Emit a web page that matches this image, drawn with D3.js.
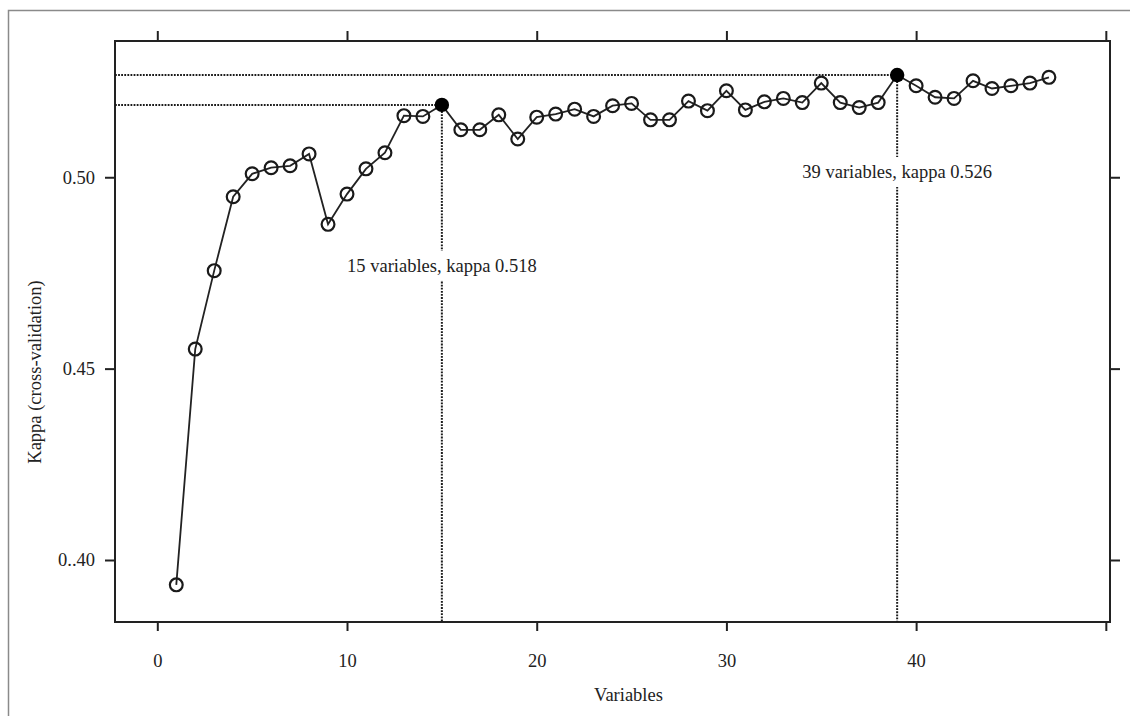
<!DOCTYPE html>
<html>
<head>
<meta charset="utf-8">
<script src="https://cdn.jsdelivr.net/npm/d3@7"></script>
<style>
  html, body { margin: 0; padding: 0; background: #fff; }
  svg { display: block; }
  text { font-family: "Liberation Serif", "DejaVu Serif", serif; fill: #222; }
</style>
</head>
<body>
<svg width="1130" height="716"></svg>
<script>
// number of variables kept, and cross-validated kappa for each
const variables = [1, 2, 3, 4, 5, 6, 7, 8, 9, 10, 11, 12, 13, 14, 15, 16, 17, 18, 19, 20,
  21, 22, 23, 24, 25, 26, 27, 28, 29, 30, 31, 32, 33, 34, 35, 36, 37, 38, 39, 40,
  41, 42, 43, 44, 45, 46, 47];
const kappa = [0.3935, 0.4551, 0.4756, 0.4949, 0.5009, 0.5025, 0.5030, 0.5061, 0.4877, 0.4956,
  0.5022, 0.5064, 0.5161, 0.5159, 0.5189, 0.5124, 0.5124, 0.5163, 0.5100, 0.5157,
  0.5165, 0.5178, 0.5159, 0.5187, 0.5193, 0.5150, 0.5150, 0.5199, 0.5174, 0.5226,
  0.5176, 0.5197, 0.5206, 0.5195, 0.5246, 0.5195, 0.5182, 0.5195, 0.5267, 0.5239,
  0.5209, 0.5206, 0.5252, 0.5232, 0.5239, 0.5246, 0.5261];

const highlighted = [15, 39];
const highlightLabels = ['15 variables, kappa 0.518', '39 variables, kappa 0.526'];

const xTicks = [0, 10, 20, 30, 40, 50];
const xTickLabels = ['0', '10', '20', '30', '40', ''];
const yTicks = [0.40, 0.45, 0.50];
const yTickLabels = ['0..40', '0.45', '0.50'];

const svg = d3.select('svg');

const panel = { left: 115, top: 41, right: 1110, bottom: 622 };

const x = d3.scaleLinear().domain([-2.23, 50.22]).range([panel.left, panel.right]);
const y = d3.scaleLinear().domain([0.3838, 0.5356]).range([panel.bottom, panel.top]);

const points = variables.map((v, i) => ({ v, k: kappa[i] }));

// outer figure frame (only top and left visible)
svg.append('path')
  .attr('d', 'M8.5,716 L8.5,10.5 L1130,10.5')
  .attr('fill', 'none')
  .attr('stroke', '#8a8a8a')
  .attr('stroke-width', 1.5);

// axes
const fmtX = (d, i) => xTickLabels[i];
const fmtY = (d, i) => yTickLabels[i];

const axBottom = svg.append('g')
  .attr('transform', `translate(0,${panel.bottom})`)
  .call(d3.axisBottom(x).tickValues(xTicks).tickFormat(fmtX).tickSizeInner(9).tickSizeOuter(0).tickPadding(23));
const axTop = svg.append('g')
  .attr('transform', `translate(0,${panel.top})`)
  .call(d3.axisTop(x).tickValues(xTicks).tickFormat('').tickSizeInner(10).tickSizeOuter(0));
const axLeft = svg.append('g')
  .attr('transform', `translate(${panel.left},0)`)
  .call(d3.axisLeft(y).tickValues(yTicks).tickFormat(fmtY).tickSizeInner(10).tickSizeOuter(0).tickPadding(10));
const axRight = svg.append('g')
  .attr('transform', `translate(${panel.right},0)`)
  .call(d3.axisRight(y).tickValues(yTicks).tickFormat('').tickSizeInner(10).tickSizeOuter(0));

[axBottom, axTop, axLeft, axRight].forEach(g => {
  g.select('.domain').remove();
  g.selectAll('line').attr('stroke', '#222').attr('stroke-width', 2);
  g.selectAll('text').attr('font-size', 18.5).attr('fill', '#222')
    .attr('font-family', '"Liberation Serif", "DejaVu Serif", serif');
});

// panel box
svg.append('rect')
  .attr('x', panel.left).attr('y', panel.top)
  .attr('width', panel.right - panel.left).attr('height', panel.bottom - panel.top)
  .attr('fill', 'none').attr('stroke', '#222').attr('stroke-width', 2);

// reference lines for the highlighted models
const best = highlighted.map((v, i) => ({ v, k: kappa[variables.indexOf(v)], label: highlightLabels[i] }));
const labelKappa = [0.4753, 0.4998]; // where the labels sit on the y scale

const refs = svg.append('g')
  .attr('stroke', '#1a1a1a').attr('stroke-width', 2).attr('stroke-dasharray', '1.8,1.3').attr('fill', 'none');
best.forEach(d => {
  refs.append('line')
    .attr('x1', panel.left).attr('x2', x(d.v))
    .attr('y1', y(d.k)).attr('y2', y(d.k));
  refs.append('line')
    .attr('x1', x(d.v)).attr('x2', x(d.v))
    .attr('y1', y(d.k)).attr('y2', panel.bottom);
});

best.forEach((d, i) => {
  const g = svg.append('g');
  const bg = g.append('rect').attr('fill', '#fff');
  const t = g.append('text')
    .attr('x', x(d.v)).attr('y', y(labelKappa[i]))
    .attr('text-anchor', 'middle')
    .attr('font-size', 18.5)
    .text(d.label);
  const b = t.node().getBBox();
  bg.attr('x', b.x - 2).attr('y', b.y - 5).attr('width', b.width + 4).attr('height', b.height + 10);
});

// data line and markers
const line = d3.line().x(d => x(d.v)).y(d => y(d.k));
svg.append('path')
  .datum(points)
  .attr('d', line)
  .attr('fill', 'none')
  .attr('stroke', '#222')
  .attr('stroke-width', 1.8);

svg.append('g').selectAll('circle')
  .data(points.filter(d => !highlighted.includes(d.v)))
  .join('circle')
  .attr('cx', d => x(d.v)).attr('cy', d => y(d.k))
  .attr('r', 6.4)
  .attr('fill', 'none')
  .attr('stroke', '#1a1a1a')
  .attr('stroke-width', 2.2);

svg.append('g').selectAll('circle')
  .data(best)
  .join('circle')
  .attr('cx', d => x(d.v)).attr('cy', d => y(d.k))
  .attr('r', 7.2)
  .attr('fill', '#000');

// axis titles
svg.append('text')
  .attr('x', (panel.left + panel.right) / 2 + 16).attr('y', 701)
  .attr('text-anchor', 'middle').attr('font-size', 18.5)
  .text('Variables');
svg.append('text')
  .attr('transform', 'translate(41,372) rotate(-90)')
  .attr('text-anchor', 'middle').attr('font-size', 18.5)
  .text('Kappa (cross-validation)');
</script>
</body>
</html>
